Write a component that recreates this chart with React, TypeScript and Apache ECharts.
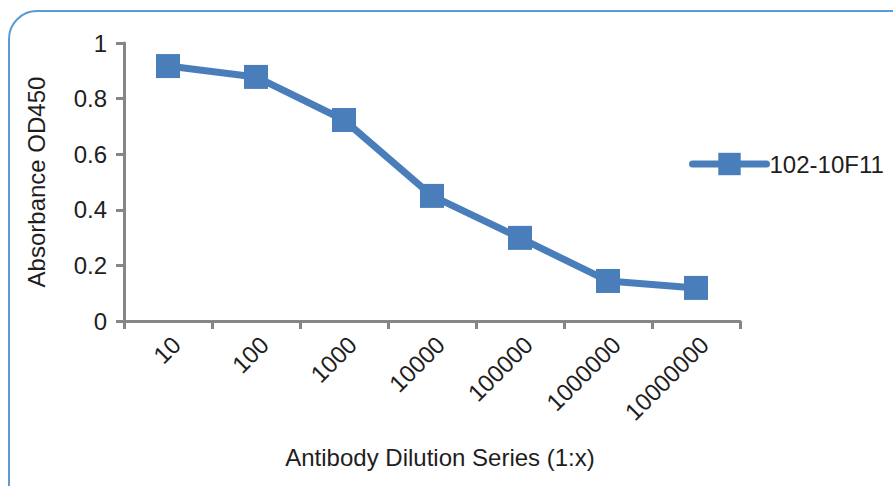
import React, { useEffect, useRef } from "react";
import * as echarts from "echarts";

const categories = ["10", "100", "1000", "10000", "100000", "1000000", "10000000"];
const values = [0.917, 0.878, 0.723, 0.45, 0.299, 0.144, 0.119];
const seriesName = "102-10F11";
const yTicks = [0, 0.2, 0.4, 0.6, 0.8, 1];

export default function App() {
  const ref = useRef<HTMLDivElement>(null);
  useEffect(() => {
    if (!ref.current) return;
    const chart = echarts.init(ref.current, null, { renderer: "svg" });
    const font = "'Liberation Sans', Arial, sans-serif";
    chart.setOption({
      animation: false,
      backgroundColor: "#ffffff",
      graphic: [
        {
          type: "rect",
          shape: { x: 9, y: 11, width: 920, height: 520, r: 28 },
          style: { fill: "none", stroke: "#5b9bd5", lineWidth: 2 },
          silent: true,
        },
      ],
      grid: { left: 124, top: 43, right: 153, bottom: 165 },
      legend: {
        left: 684,
        top: 147,
        itemWidth: 74,
        itemHeight: 28,
        lineStyle: { width: 7, cap: "round" },
        textStyle: { fontFamily: font, fontSize: 24, color: "#1e1e1e", padding: [0, 0, 0, -2] },
        data: [{ name: seriesName }],
      },
      xAxis: {
        type: "category",
        data: categories,
        boundaryGap: true,
        name: "Antibody Dilution Series (1:x)",
        nameLocation: "middle",
        nameGap: 124,
        nameTextStyle: { fontFamily: font, fontSize: 24, color: "#1e1e1e", padding: [0, 0, 0, 16] },
        axisLine: { lineStyle: { color: "#868686", width: 3 } },
        axisTick: { show: true, length: 8, lineStyle: { color: "#868686", width: 3 } },
        axisLabel: {
          rotate: 45,
          fontFamily: font,
          fontSize: 24,
          color: "#1e1e1e",
          margin: 11,
          interval: 0,
          verticalAlign: "top",
        },
        splitLine: { show: false },
      },
      yAxis: {
        type: "value",
        min: 0,
        max: 1,
        interval: 0.2,
        name: "Absorbance OD450",
        nameLocation: "middle",
        nameGap: 76,
        nameTextStyle: { fontFamily: font, fontSize: 24, color: "#1e1e1e" },
        axisLine: { show: true, lineStyle: { color: "#868686", width: 3 } },
        axisTick: { show: true, length: 8, lineStyle: { color: "#868686", width: 3 } },
        axisLabel: {
          fontFamily: font,
          fontSize: 24,
          color: "#1e1e1e",
          margin: 17,
          formatter: (v: number) => (yTicks.includes(Math.round(v * 10) / 10) ? String(Math.round(v * 10) / 10) : ""),
        },
        splitLine: { show: false },
      },
      series: [
        {
          name: seriesName,
          type: "line",
          data: values,
          symbol: "rect",
          symbolSize: 24,
          lineStyle: { color: "#4a7ebb", width: 7 },
          itemStyle: { color: "#4a7ebb" },
        },
      ],
    });
    return () => chart.dispose();
  }, []);
  return <div ref={ref} style={{ position: "absolute", left: 0, top: 0, width: 893, height: 486 }} />;
}
